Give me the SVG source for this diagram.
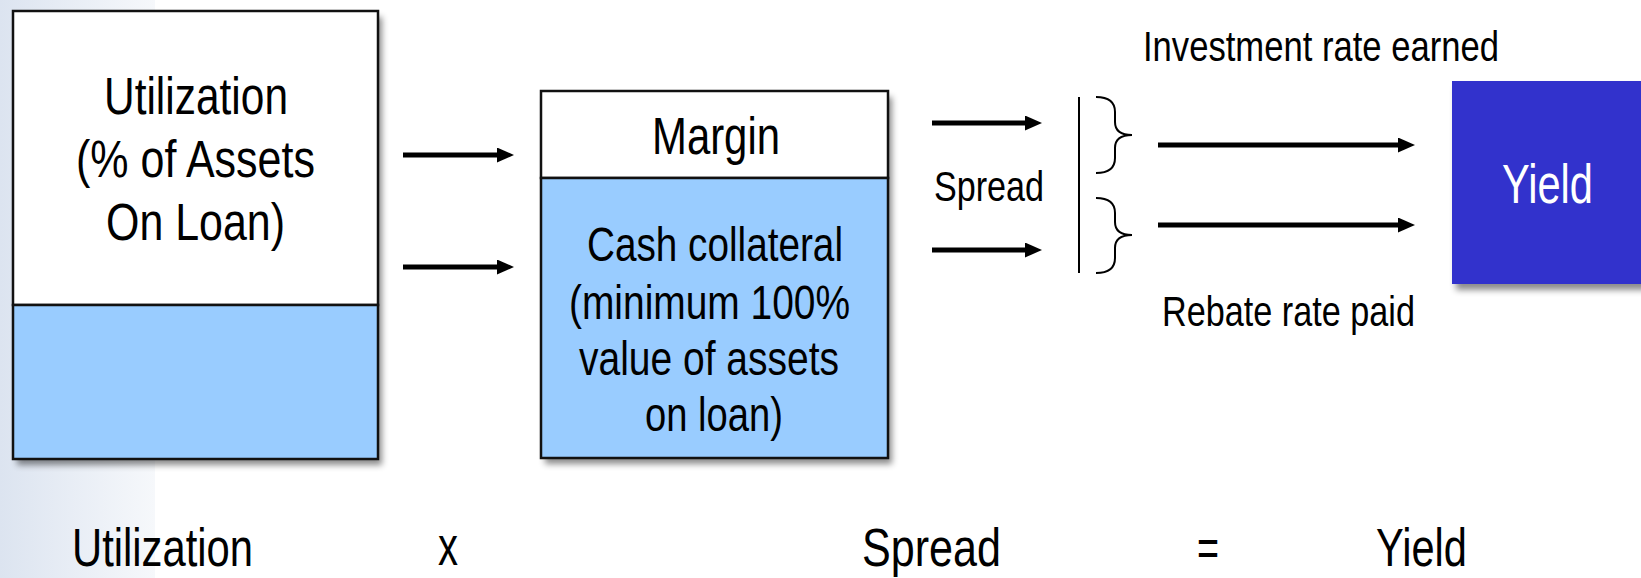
<svg xmlns="http://www.w3.org/2000/svg" width="1641" height="578" viewBox="0 0 1641 578">
<defs>
<linearGradient id="strip" x1="0" y1="0" x2="1" y2="0">
<stop offset="0" stop-color="#dce4f0"/>
<stop offset="1" stop-color="#f6f8fb"/>
</linearGradient>
<filter id="shadow" x="-10%" y="-10%" width="125%" height="125%">
<feDropShadow dx="4" dy="6" stdDeviation="3" flood-color="#000" flood-opacity="0.45"/>
</filter>
<marker id="head" markerUnits="userSpaceOnUse" markerWidth="17" markerHeight="15" refX="3" refY="7.5" orient="auto">
<path d="M0,0 L17,7.5 L0,15 z" fill="#000"/>
</marker>
</defs>
<style>
text{font-family:"Liberation Sans Narrow","Liberation Sans",Arial,sans-serif;fill:#000;}
.big{font-size:51px;text-anchor:middle;}
.mid{font-size:49px;text-anchor:middle;}
.small{font-size:42px;text-anchor:middle;}
.bottom{font-size:53px;text-anchor:middle;}
.box{stroke:#111;stroke-width:2.5;}
.white{fill:#fff;}
.blue{fill:#99ccff;}
.arrow{stroke:#000;stroke-width:5;fill:none;marker-end:url(#head);}
.thin{stroke:#000;stroke-width:2;fill:none;}
</style>
<rect x="0" y="0" width="1641" height="578" fill="#fff"/>
<rect x="0" y="0" width="155" height="578" fill="url(#strip)"/>

<g id="utilization-box">
<g filter="url(#shadow)">
<rect x="13" y="11" width="365" height="448" class="white"/>
</g>
<rect x="13" y="11" width="365" height="294" class="white box"/>
<rect x="13" y="305" width="365" height="154" class="blue box"/>
<text class="big" x="196" y="114" textLength="184" lengthAdjust="spacingAndGlyphs">Utilization</text>
<text class="big" x="195.5" y="177" textLength="239" lengthAdjust="spacingAndGlyphs">(% of Assets</text>
<text class="big" x="195.5" y="240" textLength="179" lengthAdjust="spacingAndGlyphs">On Loan)</text>
</g>

<g id="collateral-box">
<g filter="url(#shadow)">
<rect x="541" y="91" width="347" height="367" class="white"/>
</g>
<rect x="541" y="91" width="347" height="87" class="white box"/>
<rect x="541" y="178" width="347" height="280" class="blue box"/>
<text class="big" x="716" y="154" textLength="128" lengthAdjust="spacingAndGlyphs">Margin</text>
<text class="mid" x="715" y="261" textLength="256" lengthAdjust="spacingAndGlyphs">Cash collateral</text>
<text class="mid" x="709.5" y="319" textLength="281" lengthAdjust="spacingAndGlyphs">(minimum 100%</text>
<text class="mid" x="709" y="375" textLength="260" lengthAdjust="spacingAndGlyphs">value of assets</text>
<text class="mid" x="714" y="431" textLength="138" lengthAdjust="spacingAndGlyphs">on loan)</text>
</g>

<g id="spread-label">
<text class="small" x="989" y="201" textLength="110" lengthAdjust="spacingAndGlyphs">Spread</text>
</g>

<g id="investment-label">
<text class="small" x="1321" y="61" textLength="356" lengthAdjust="spacingAndGlyphs">Investment rate earned</text>
</g>

<g id="rebate-label">
<text class="small" x="1288.5" y="326" textLength="253" lengthAdjust="spacingAndGlyphs">Rebate rate paid</text>
</g>

<g id="yield-box">
<rect x="1452" y="81" width="195" height="203" fill="#3333cc" filter="url(#shadow)"/>
<text x="1547.5" y="203" textLength="91" lengthAdjust="spacingAndGlyphs" style="font-size:55px;text-anchor:middle;fill:#fff">Yield</text>
</g>

<g id="connectors">
<line class="arrow" x1="403" y1="155" x2="500" y2="155"/>
<line class="arrow" x1="403" y1="267" x2="500" y2="267"/>
<line class="arrow" x1="932" y1="123" x2="1028" y2="123"/>
<line class="arrow" x1="932" y1="250" x2="1028" y2="250"/>
<line class="arrow" x1="1158" y1="145" x2="1401" y2="145"/>
<line class="arrow" x1="1158" y1="225" x2="1401" y2="225"/>
<line class="thin" x1="1079" y1="97" x2="1079" y2="273"/>
<path class="thin" d="M1096,97 Q1115,97 1115,112 L1115,122 Q1115,135 1132,135 Q1115,135 1115,148 L1115,158 Q1115,173 1096,173"/>
<path class="thin" d="M1096,198 Q1115,198 1115,213 L1115,222 Q1115,235 1132,235 Q1115,235 1115,248 L1115,258 Q1115,273 1096,273"/>
</g>

<g id="equation">
<text class="bottom" x="162.5" y="566" textLength="181" lengthAdjust="spacingAndGlyphs">Utilization</text>
<text x="448" y="565" textLength="20" lengthAdjust="spacingAndGlyphs" style="font-size:56px;text-anchor:middle">x</text>
<text class="bottom" x="931.5" y="566" textLength="139" lengthAdjust="spacingAndGlyphs">Spread</text>
<text class="bottom" x="1208" y="566" textLength="22" lengthAdjust="spacingAndGlyphs">=</text>
<text class="bottom" x="1421.5" y="566" textLength="91" lengthAdjust="spacingAndGlyphs">Yield</text>
</g>
</svg>
